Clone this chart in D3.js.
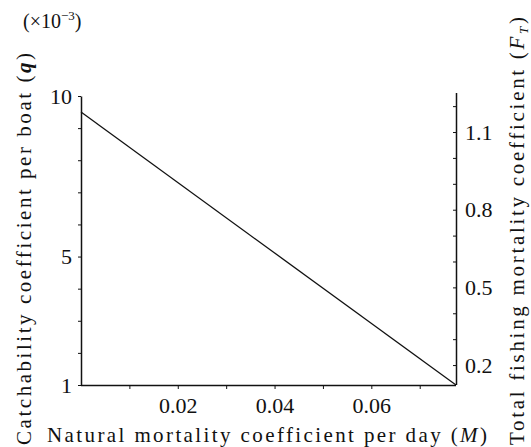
<!DOCTYPE html>
<html>
<head>
<meta charset="utf-8">
<script src="https://cdn.jsdelivr.net/npm/d3@7"></script>
<style>
  body { margin: 0; background: #fff; }
  svg { display: block; }
</style>
</head>
<body>
<svg id="chart" width="531" height="447" font-family="'Liberation Serif', 'DejaVu Serif', serif"></svg>
<script>
// natural mortality M vs catchability q (x10^-3), right axis total fishing mortality F_T
const mValues = [0, 0.0775];
const qValues = [9.5, 1.0];

const mTicks = [0.01, 0.02, 0.03, 0.04, 0.05, 0.06, 0.07];
const mLabels = [0.02, 0.04, 0.06];
const qTicks = [1, 2, 3, 4, 5, 6, 7, 8, 9, 10];
const qLabels = [1, 5, 10];
const fTicks = [0.2, 0.3, 0.4, 0.5, 0.6, 0.7, 0.8, 0.9, 1.0, 1.1, 1.2];
const fLabels = [0.2, 0.5, 0.8, 1.1];

const serif = "'Liberation Serif', 'DejaVu Serif', serif";
const plotL = 81, plotR = 456, plotT = 95, plotB = 385;

const svg = d3.select("#chart");

const x = d3.scaleLinear().domain([0, 0.0775]).range([plotL, plotR]);
const yQ = d3.scaleLinear().domain([1, 10]).range([plotB, plotT + 1]);
const yF = d3.scaleLinear().domain([0.123, 1.243]).range([plotB, plotT]);

const near = (v, arr) => arr.some(a => Math.abs(a - v) < 1e-9);

// bottom axis
const gx = svg.append("g")
  .attr("transform", `translate(0,${plotB})`)
  .call(d3.axisBottom(x).tickValues(mTicks).tickSizeInner(4).tickSizeOuter(0)
    .tickFormat(d => near(d, mLabels) ? d3.format(".2f")(d) : ""));
gx.select(".domain").attr("d", `M${plotL},0.5H${plotR}`);
gx.selectAll("text").attr("y", 12).attr("dy", "0.71em");

// left axis
const gl = svg.append("g")
  .attr("transform", `translate(${plotL},0)`)
  .call(d3.axisLeft(yQ).tickValues(qTicks).tickSizeInner(3).tickSizeOuter(0)
    .tickFormat(d => near(d, qLabels) ? d : ""));
gl.selectAll("text").attr("x", -9);

// right axis
const gr = svg.append("g")
  .attr("transform", `translate(${plotR},0)`)
  .call(d3.axisRight(yF).tickValues(fTicks).tickSizeInner(-3).tickSizeOuter(0)
    .tickFormat(d => near(d, fLabels) ? d3.format(".1f")(d) : ""));
gr.select(".domain").attr("d", `M0.5,${plotT - 2}V${plotB}`);
gr.selectAll("text").attr("x", 9);

[gx, gl, gr].forEach(g => {
  g.attr("font-family", serif).attr("font-size", 22);
  g.select(".domain").attr("stroke", "#111").attr("stroke-width", 1.5);
  g.selectAll(".tick line").attr("stroke", "#111");
  g.selectAll("text").attr("fill", "#111");
});

// the relationship line
const pts = mValues.map((m, i) => [m, qValues[i]]);
svg.append("path")
  .datum(pts)
  .attr("fill", "none")
  .attr("stroke", "#111")
  .attr("stroke-width", 1.3)
  .attr("d", d3.line().x(d => x(d[0])).y(d => yQ(d[1])));

// titles
const xt = svg.append("text")
  .attr("x", 47).attr("y", 442)
  .attr("textLength", 440).attr("lengthAdjust", "spacing")
  .attr("font-size", 21).attr("fill", "#111");
xt.append("tspan").text("Natural mortality coefficient per day (");
xt.append("tspan").attr("font-style", "italic").text("M");
xt.append("tspan").text(")");

const lt = svg.append("text")
  .attr("transform", "translate(31,445) rotate(-90)")
  .attr("textLength", 392).attr("lengthAdjust", "spacing")
  .attr("font-size", 21).attr("fill", "#111");
lt.append("tspan").text("Catchability coefficient per boat (");
lt.append("tspan").attr("font-style", "italic").attr("font-weight", "bold").text("q");
lt.append("tspan").text(")");

const rt = svg.append("text")
  .attr("transform", "translate(524,445) rotate(-90)")
  .attr("textLength", 428).attr("lengthAdjust", "spacing")
  .attr("font-size", 21).attr("fill", "#111");
rt.append("tspan").text("Total fishing mortality coefficient (");
rt.append("tspan").attr("font-style", "italic").text("F");
rt.append("tspan").attr("font-style", "italic").attr("font-size", 13).attr("dy", 4).text("T");
rt.append("tspan").attr("dy", -4).text(")");

const unit = svg.append("text").attr("x", 23).attr("y", 28)
  .attr("font-size", 20).attr("fill", "#111");
unit.append("tspan").text("(×10");
unit.append("tspan").attr("dy", -8).attr("font-size", 13).text("−3");
unit.append("tspan").attr("dy", 8).text(")");
</script>
</body>
</html>
